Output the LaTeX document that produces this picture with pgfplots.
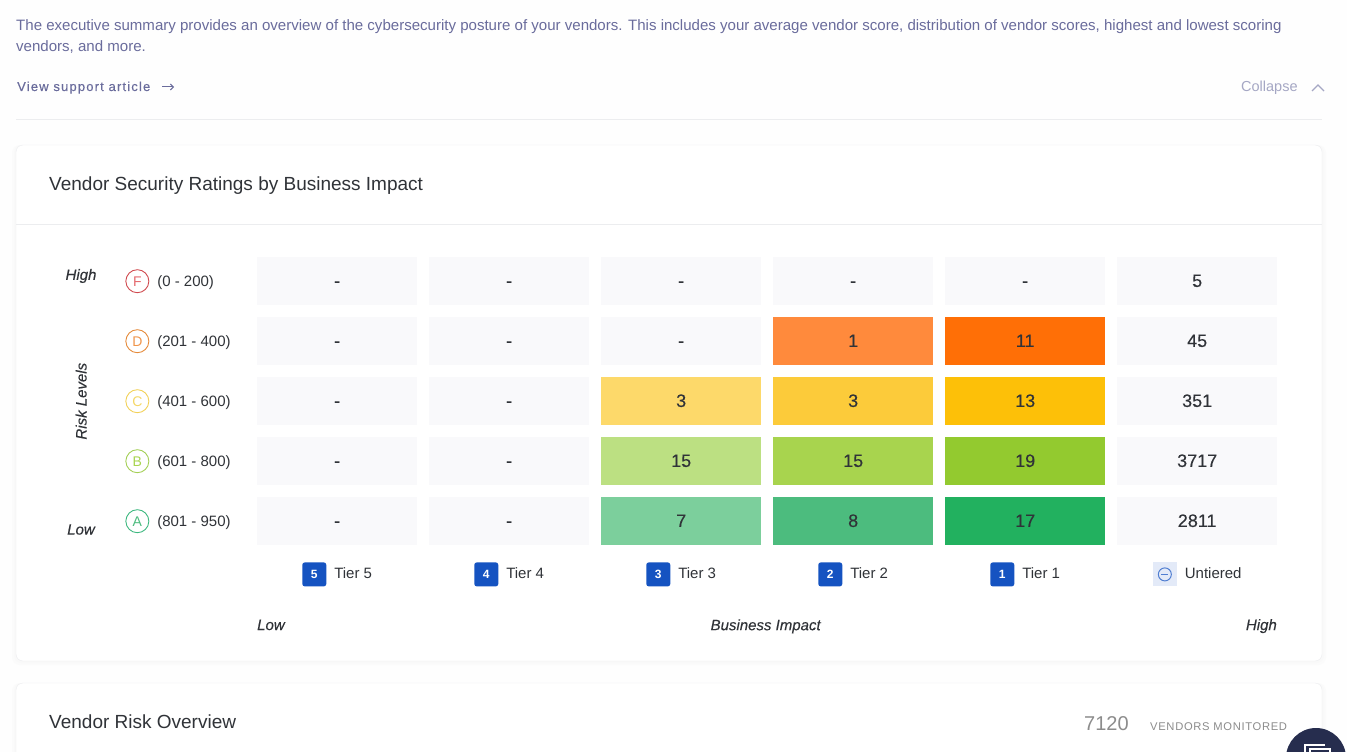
\documentclass[border=0pt]{standalone}
\usepackage{fontspec}
\setmainfont{Liberation Sans}
\newfontfamily\spaced[LetterSpace=9,FakeBold=0.25]{Liberation Sans}
\newfontfamily\spacedl[LetterSpace=6]{Liberation Sans}
\newfontfamily\med[FakeBold=0.25]{Liberation Sans}
\usepackage{pgfplots}
\usetikzlibrary{arrows.meta}
\pgfplotsset{compat=1.18}
\definecolor{pagebg}{HTML}{FEFEFE}
\definecolor{line}{HTML}{ECEDEF}
\definecolor{desc}{HTML}{6A6C9C}
\definecolor{ink}{HTML}{303338}
\definecolor{empty}{HTML}{F9F9FB}
\definecolor{navy}{HTML}{262D4E}
\definecolor{tierblue}{HTML}{1553C1}
\definecolor{cDtwo}{HTML}{FF8A3C}
\definecolor{cDone}{HTML}{FF6F06}
\definecolor{cCthree}{HTML}{FDD96A}
\definecolor{cCtwo}{HTML}{FCCB3A}
\definecolor{cCone}{HTML}{FDC008}
\definecolor{cBthree}{HTML}{BCE082}
\definecolor{cBtwo}{HTML}{A8D44E}
\definecolor{cBone}{HTML}{93CA2F}
\definecolor{cAthree}{HTML}{7CCF9C}
\definecolor{cAtwo}{HTML}{4CBC7E}
\definecolor{cAone}{HTML}{22B15F}
\definecolor{rF}{HTML}{D04A4F}\definecolor{tF}{HTML}{E56A6E}
\definecolor{rD}{HTML}{E58A3A}\definecolor{tD}{HTML}{F0954A}
\definecolor{rC}{HTML}{F2D158}\definecolor{tC}{HTML}{F5D868}
\definecolor{rB}{HTML}{A4CF55}\definecolor{tB}{HTML}{A8D44E}
\definecolor{rA}{HTML}{3DB87F}\definecolor{tA}{HTML}{4CBC7E}
\newcommand\fs[1]{\fontsize{#1}{#1}\selectfont}
\newcommand\tb[1]{\tikz[baseline=(b.base)]{\node[fill=tierblue,rounded corners=2.5pt,minimum size=24pt,inner sep=0pt,text=white,font=\fs{12}\bfseries] (b) {#1};}}
\newcommand\ub{\tikz[baseline=(b.base)]{\node[fill=tierblue!12,minimum size=24pt,inner sep=0pt,text=tierblue!12,font=\fs{12}] (b) {0};\draw[tierblue!75,line width=1pt] (b.center) circle (6.5pt);\draw[tierblue!75,line width=1pt] ([xshift=-3.5pt]b.center)--([xshift=3.5pt]b.center);}}
\newcommand\rb[3]{\tikz[baseline=(b.base)]{\node[circle,draw=#2,line width=0.9pt,minimum size=23pt,inner sep=0pt,text=#3,font=\fs{14}] (b) {#1};}}
\pgfplotsset{cell/.style={only marks,mark=square*,mark size=23.8pt,
  mark options={xscale=3.3333,draw=#1,fill=#1,line width=0pt},
  nodes near coords,point meta=explicit symbolic,
  nodes near coords style={anchor=center,font=\fs{18}\med,text=ink,inner sep=0pt,text height=11.5pt,text depth=0pt}}}
\begin{document}
\begin{tikzpicture}[x=1pt,y=1pt]
\useasboundingbox (0,0) rectangle (1347,752);
\begin{axis}[at={(0,0)},anchor=south west,scale only axis,width=1347pt,height=752pt,
  xmin=0,xmax=1347,ymin=0,ymax=752,y dir=reverse,hide axis]
\fill[pagebg] (axis cs:0,0) rectangle (axis cs:1347,752);
% text header
\node[anchor=base west,inner sep=0,text=desc,font=\fs{15.05}] at (axis cs:16,31) {The executive summary provides an overview of the cybersecurity posture of your vendors. This includes your average vendor score, distribution of vendor scores, highest and lowest scoring};
\node[anchor=base west,inner sep=0,text=desc,font=\fs{15.05}] at (axis cs:16,52) {vendors, and more.};
\node[anchor=base west,inner sep=0,text=desc,font=\fs{13}\spaced] at (axis cs:17,91) {View support article};
\draw[desc,line width=1pt,-{Straight Barb[length=3pt]}] (axis cs:162,87)--(axis cs:174,87);
\node[anchor=base west,inner sep=0,text=desc!60,font=\fs{14.5}] at (axis cs:1241,92) {Collapse};
\draw[desc!60,line width=1.1pt] (axis cs:1312,91)--(axis cs:1318,85)--(axis cs:1324,91);
\draw[line,line width=1pt] (axis cs:16,119.5)--(axis cs:1322,119.5);
% cards
\fill[black!1!pagebg,rounded corners=8pt] (axis cs:12,145) rectangle (axis cs:1326,665);
\fill[black!2!pagebg,rounded corners=8pt] (axis cs:14,145) rectangle (axis cs:1324,663);
\fill[black!1!pagebg,rounded corners=8pt] (axis cs:12,683) rectangle (axis cs:1326,790);
\fill[black!2!pagebg,rounded corners=8pt] (axis cs:14,683) rectangle (axis cs:1324,790);
\fill[white,draw=line,rounded corners=7pt] (axis cs:16,145) rectangle (axis cs:1322,661);
\fill[white,draw=line,rounded corners=7pt] (axis cs:16,683) rectangle (axis cs:1322,790);
\draw[line,line width=1pt] (axis cs:16,224.5)--(axis cs:1322,224.5);
\node[anchor=base west,inner sep=0,text=ink,font=\fs{19}] at (axis cs:49,190) {Vendor Security Ratings by Business Impact};
\node[anchor=base west,inner sep=0,text=ink,font=\fs{19}] at (axis cs:49,728) {Vendor Risk Overview};
\node[anchor=base west,inner sep=0,text=black!45,font=\fs{20}] at (axis cs:1084,730) {7120};
\node[anchor=base west,inner sep=0,text=black!45,font=\fs{11.2}\spacedl] at (axis cs:1150,730) {VENDORS MONITORED};
% side labels
\node[inner sep=0,text=ink,font=\fs{15}\med\itshape] at (axis cs:81,276) {High};
\node[inner sep=0,text=ink,font=\fs{15}\med\itshape] at (axis cs:81,529.5) {Low};
\node[anchor=base west,inner sep=0,text=ink,font=\fs{15}\med\itshape] at (axis cs:257,630) {Low};
\node[anchor=base east,inner sep=0,text=ink,font=\fs{15}\med\itshape] at (axis cs:1277,630) {High};
% chat bubble
\fill[navy] (axis cs:1316,758) circle (30pt);
\draw[white,line width=1.4pt] (axis cs:1310,752)--(axis cs:1310,749) -- (axis cs:1330,749)--(axis cs:1330,752);
\draw[white,line width=1.4pt] (axis cs:1305,752)--(axis cs:1305,745) -- (axis cs:1325,745);
\end{axis}
\begin{axis}[at={(251.2pt,200.8pt)},anchor=south west,scale only axis,width=1032pt,height=300pt,
  xmin=-0.5,xmax=5.5,ymin=-0.5,ymax=4.5,axis line style={draw=none},
  xtick={0,1,2,3,4,5},ytick={0,1,2,3,4},
  major tick length=0pt,
  xticklabels={{\tb{5}\hspace{8pt}Tier 5},{\tb{4}\hspace{8pt}Tier 4},{\tb{3}\hspace{8pt}Tier 3},{\tb{2}\hspace{8pt}Tier 2},{\tb{1}\hspace{8pt}Tier 1},{\ub\hspace{8pt}Untiered}},
  yticklabels={{\rb{A}{rA}{tA}\hspace{8pt}(801 - 950)},{\rb{B}{rB}{tB}\hspace{8pt}(601 - 800)},{\rb{C}{rC}{tC}\hspace{8pt}(401 - 600)},{\rb{D}{rD}{tD}\hspace{8pt}(201 - 400)},{\rb{F}{rF}{tF}\hspace{8pt}(0 - 200)}},
  xticklabel style={font=\fs{15},text=ink,inner sep=0pt,yshift=-11pt},
  yticklabel style={font=\fs{15},text=ink,inner sep=0pt,anchor=west,xshift=-126pt},
  xlabel={Business Impact},ylabel={Risk Levels},
  xlabel style={font=\fs{15}\med\itshape,text=ink,at={(axis description cs:0.4985,0)},anchor=base,yshift=-79pt,inner sep=0pt},
  ylabel style={font=\fs{15}\med\itshape,text=ink,at={(axis description cs:0,0.5)},anchor=center,xshift=0pt,yshift=170pt,inner sep=0pt},
  clip=false]
\addplot[cell=empty] coordinates {
 (0,4) [-] (1,4) [-] (2,4) [-] (3,4) [-] (4,4) [-] (5,4) [5]
 (0,3) [-] (1,3) [-] (2,3) [-] (5,3) [45]
 (0,2) [-] (1,2) [-] (5,2) [351]
 (0,1) [-] (1,1) [-] (5,1) [3717]
 (0,0) [-] (1,0) [-] (5,0) [2811]};
\addplot[cell=cDtwo] coordinates {(3,3) [1]};
\addplot[cell=cDone] coordinates {(4,3) [11]};
\addplot[cell=cCthree] coordinates {(2,2) [3]};
\addplot[cell=cCtwo] coordinates {(3,2) [3]};
\addplot[cell=cCone] coordinates {(4,2) [13]};
\addplot[cell=cBthree] coordinates {(2,1) [15]};
\addplot[cell=cBtwo] coordinates {(3,1) [15]};
\addplot[cell=cBone] coordinates {(4,1) [19]};
\addplot[cell=cAthree] coordinates {(2,0) [7]};
\addplot[cell=cAtwo] coordinates {(3,0) [8]};
\addplot[cell=cAone] coordinates {(4,0) [17]};
\end{axis}
\end{tikzpicture}
\end{document}
